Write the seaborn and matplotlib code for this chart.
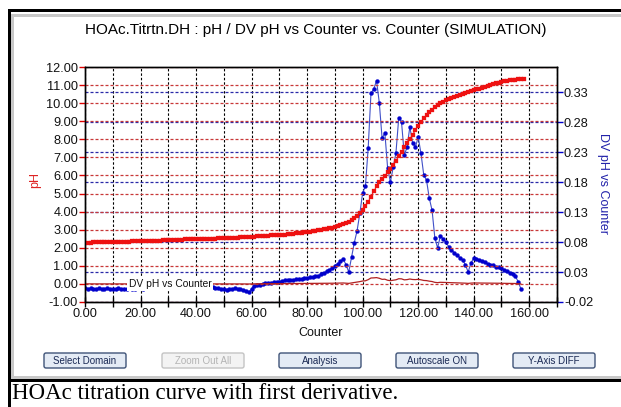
import matplotlib
matplotlib.use("Agg")
import matplotlib.pyplot as plt
import seaborn as sns
from matplotlib.patches import Rectangle, FancyBboxPatch
from matplotlib.transforms import IdentityTransform
from matplotlib.ticker import FormatStrFormatter, FixedLocator

W, H = 621, 407

# pH reading for each counter value (red series)
counter_ph = list(range(0, 159))
ph = [
    2.28, 2.29, 2.29, 2.30, 2.30, 2.30, 2.31, 2.31, 2.31, 2.32,
    2.32, 2.32, 2.33, 2.33, 2.33, 2.34, 2.34, 2.35, 2.35, 2.36,
    2.36, 2.37, 2.37, 2.38, 2.38, 2.39, 2.40, 2.40, 2.41, 2.42,
    2.43, 2.43, 2.44, 2.44, 2.45, 2.45, 2.46, 2.46, 2.47, 2.47,
    2.48, 2.48, 2.49, 2.49, 2.50, 2.50, 2.51, 2.51, 2.52, 2.52,
    2.53, 2.53, 2.54, 2.55, 2.55, 2.56, 2.57, 2.58, 2.59, 2.60,
    2.61, 2.62, 2.63, 2.64, 2.65, 2.66, 2.67, 2.68, 2.69, 2.70,
    2.71, 2.72, 2.73, 2.75, 2.76, 2.78, 2.80, 2.82, 2.84, 2.86,
    2.88, 2.90, 2.92, 2.94, 2.97, 3.00, 3.03, 3.06, 3.09, 3.12,
    3.16, 3.20, 3.25, 3.30, 3.37, 3.44, 3.52, 3.62, 3.75, 3.90,
    4.08, 4.30, 4.55, 4.83, 5.12, 5.40, 5.62, 5.80, 5.98, 6.18,
    6.38, 6.58, 6.82, 7.08, 7.32, 7.55, 7.78, 8.02, 8.26, 8.50,
    8.74, 8.96, 9.16, 9.34, 9.50, 9.64, 9.78, 9.90, 10.00, 10.08,
    10.16, 10.23, 10.30, 10.36, 10.42, 10.47, 10.52, 10.57, 10.61, 10.66,
    10.71, 10.76, 10.81, 10.86, 10.91, 10.96, 11.01, 11.05, 11.09, 11.13,
    11.17, 11.20, 11.23, 11.26, 11.28, 11.30, 11.31, 11.32, 11.33,
]

# first derivative (blue series, right axis)
counter_dv = list(range(0, 158))
dv = [
    0.004, 0.002, 0.003, 0.001, 0.002, 0.003, 0.002, 0.001, 0.003, 0.002,
    0.001, 0.002, 0.003, 0.002, 0.001, 0.002, 0.003, 0.002, 0.002, 0.003,
    0.003, 0.002, 0.003, 0.004, 0.003, 0.003, 0.004, 0.003, 0.004, 0.003,
    0.004, 0.004, 0.003, 0.004, 0.004, 0.005, 0.004, 0.004, 0.005, 0.004,
    0.005, 0.004, 0.005, 0.005, 0.006, 0.005, 0.005, 0.004, 0.003, 0.002,
    0.001, 0.000, 0.001, 0.002, 0.003, 0.002, 0.001, 0.000, -0.001, -0.004,
    0.002, 0.007, 0.008, 0.009, 0.010, 0.011, 0.012, 0.012, 0.013, 0.014,
    0.014, 0.015, 0.016, 0.016, 0.017, 0.017, 0.018, 0.018, 0.019, 0.020,
    0.020, 0.021, 0.022, 0.023, 0.024, 0.026, 0.028, 0.031, 0.034, 0.037,
    0.040, 0.044, 0.048, 0.052, 0.042, 0.030, 0.055, 0.079, 0.099, 0.128,
    0.162, 0.173, 0.237, 0.328, 0.335, 0.349, 0.312, 0.253, 0.262, 0.203,
    0.180, 0.205, 0.229, 0.287, 0.280, 0.225, 0.238, 0.272, 0.245, 0.238,
    0.255, 0.228, 0.192, 0.183, 0.153, 0.133, 0.087, 0.070, 0.090, 0.085,
    0.080, 0.072, 0.067, 0.062, 0.058, 0.054, 0.050, 0.042, 0.030, 0.045,
    0.053, 0.052, 0.050, 0.048, 0.046, 0.044, 0.042, 0.041, 0.039, 0.038,
    0.036, 0.034, 0.032, 0.029, 0.026, 0.023, 0.014, 0.002,
]

ph_ticks = list(range(-1, 13))
dv_ticks = [-0.02, 0.03, 0.08, 0.13, 0.18, 0.23, 0.28, 0.33]
x_major = list(range(0, 170, 20))
x_minor = list(range(0, 171, 10))
buttons = ["Select Domain", "Zoom Out All", "Analysis", "Autoscale ON", "Y-Axis DIFF"]
button_left = [44, 162, 279, 396, 513]

RED = "#ee1111"
BLUE = "#0000cc"

sns.set_theme(style="white")
plt.rcParams["font.family"] = ["Liberation Sans", "DejaVu Sans"]
plt.rcParams["axes.unicode_minus"] = False

fig = plt.figure(figsize=(W / 100, H / 100), dpi=100)
fig.patch.set_facecolor("white")


def px_rect(x0, y0, x1, y1, color, z=-5):
    # rectangle in image pixels, y measured from the top
    r = Rectangle((x0, H - y1), x1 - x0, y1 - y0, transform=IdentityTransform(),
                  facecolor=color, edgecolor="none", zorder=z)
    fig.add_artist(r)


# window frame
px_rect(7.5, 9, 640, 381.5, "black")
px_rect(10.5, 11.5, 640, 379, "white")
px_rect(10.5, 13.5, 640, 379, "#c8c8c8")
px_rect(14, 17, 640, 375.5, "white")
px_rect(7.5, 381.5, 10.5, 410, "black")

ax2 = fig.add_axes([85 / W, 1 - 302 / H, 472 / W, 235 / H])
ax = ax2.twinx()
# pH axis on the left, derivative axis on the right
ax.yaxis.tick_left()
ax.yaxis.set_label_position("left")
ax2.yaxis.tick_right()
ax2.yaxis.set_label_position("right")
ax.set_zorder(2)
ax.patch.set_visible(False)
ax2.patch.set_facecolor("white")

ax2.set_xlim(0, 170)
ax.set_ylim(-1, 12)
ax2.set_ylim(-0.02, 0.3717)

# grid
dash = (0, (2.4, 1.6))
ax2.set_yticks(dv_ticks)
ax2.yaxis.grid(True, color="#2a2aa8", linestyle=dash, linewidth=0.9)
ax2.xaxis.set_major_locator(FixedLocator(x_minor))
ax2.xaxis.grid(True, color="black", linestyle=(0, (2.2, 1.8)), linewidth=0.8)
ax.set_yticks(ph_ticks)
ax.yaxis.grid(True, color="#c83838", linestyle=dash, linewidth=0.9)

# data
sns.lineplot(x=counter_dv, y=dv, ax=ax2, color="#4050c8", linewidth=0.8,
             marker="o", markersize=2.8, markerfacecolor=BLUE,
             markeredgecolor=BLUE, markeredgewidth=0.3, legend=False)
sns.lineplot(x=counter_dv, y=dv, ax=ax, color="#b02020", linewidth=0.9, legend=False)
sns.lineplot(x=counter_ph, y=ph, ax=ax, color=RED, linewidth=0.7,
             marker="s", markersize=2.8, markerfacecolor=RED,
             markeredgecolor=RED, markeredgewidth=0.2, legend=False)

# ticks
ax.yaxis.set_major_formatter(FormatStrFormatter("%.2f"))
ax2.yaxis.set_major_formatter(FormatStrFormatter("%.2f"))
ax.tick_params(axis="y", left=True, right=False, color="#dd0000", labelcolor="#111111",
               length=4, width=1, direction="out", labelsize=9.2, pad=1)
ax2.tick_params(axis="y", left=False, right=True, color="#0000cc", labelcolor="#111111",
                length=4, width=1, direction="out", labelsize=9.2, pad=1)
ax2.set_xticks(x_minor)
ax2.set_xticklabels([f"{v:.2f}" if v in x_major else "" for v in x_minor])
ax2.tick_params(axis="x", bottom=True, color="black", length=7, width=1,
                direction="inout", labelsize=9.2, labelcolor="#111111", pad=1)
ax.tick_params(axis="x", bottom=False, labelbottom=False)

for a in (ax, ax2):
    for s in a.spines.values():
        s.set_color("black")
        s.set_linewidth(1)

# axis labels
ax.set_ylabel("pH", color="#dd2222", fontsize=9, va="center")
ax.yaxis.set_label_coords((35 - 85) / 472, (302 - 180) / 235)
ax2.set_ylabel("DV pH vs Counter", color="#2222aa", fontsize=9, rotation=270, va="center")
ax2.yaxis.set_label_coords((603 - 85) / 472, (302 - 183) / 235)
ax2.set_xlabel("Counter", fontsize=9, va="center", color="#111111")
ax2.xaxis.set_label_coords((321 - 85) / 472, (302 - 333) / 235)

fig.text(129 / W, 1 - 284 / H, "DV pH vs Counter", fontsize=7.4, va="center", ha="left",
         color="#111111", zorder=5,
         bbox=dict(facecolor="white", edgecolor="none", pad=1.2))

fig.text(316 / W, 1 - 30 / H, "HOAc.Titrtn.DH : pH / DV pH vs Counter vs. Counter (SIMULATION)",
         fontsize=11, ha="center", va="center", color="black")

# buttons under the plot
for name, left in zip(buttons, button_left):
    disabled = name == "Zoom Out All"
    box = FancyBboxPatch((left, H - 368), 82, 15, transform=IdentityTransform(),
                         boxstyle="round,pad=0,rounding_size=2",
                         facecolor="#f3f3f3" if disabled else "#e4ebf5",
                         edgecolor="#c4c4c4" if disabled else "#3f5478",
                         linewidth=1, zorder=1)
    fig.add_artist(box)
    fig.text((left + 41) / W, 1 - 360.5 / H, name, fontsize=7, ha="center", va="center",
             color="#b4b4b4" if disabled else "#1b2a55", zorder=2)

fig.text(12 / W, 1 - 399 / H, "HOAc titration curve with first derivative.",
         fontsize=16.5, ha="left", va="baseline", color="black",
         family=["Liberation Serif", "DejaVu Serif"])

fig.savefig("out.png", dpi=100, facecolor="white")
